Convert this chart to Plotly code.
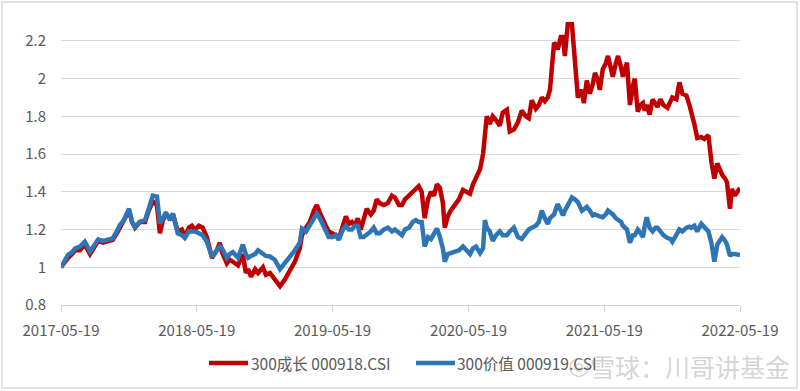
import plotly.graph_objects as go

dates = [
"2017-05-19","2017-05-30","2017-06-07","2017-06-18","2017-06-26","2017-07-09","2017-07-22","2017-08-05","2017-08-16","2017-08-27",
"2017-09-09","2017-09-22","2017-10-05","2017-10-16","2017-10-24","2017-11-04","2017-11-18","2017-11-26","2017-12-04","2017-12-17",
"2017-12-31","2018-01-10","2018-01-21","2018-02-01","2018-02-09","2018-02-17","2018-02-25","2018-03-08","2018-03-16","2018-03-29",
"2018-04-09","2018-04-17","2018-04-28","2018-05-06","2018-05-14","2018-05-25","2018-06-04","2018-06-15","2018-06-29","2018-07-12",
"2018-07-20","2018-07-26","2018-08-08","2018-08-16","2018-08-24","2018-09-07","2018-09-20","2018-09-28","2018-10-04","2018-10-12",
"2018-10-23","2018-10-31","2018-11-13","2018-11-21","2018-12-02","2018-12-15","2018-12-29","2019-01-11","2019-01-24","2019-02-07",
"2019-02-20","2019-02-26","2019-03-09","2019-03-19","2019-03-30","2019-04-07","2019-04-15","2019-04-23","2019-05-01","2019-05-09",
"2019-05-20","2019-05-28","2019-06-05","2019-06-16","2019-06-24","2019-07-02","2019-07-10","2019-07-18","2019-07-26","2019-08-03",
"2019-08-11","2019-08-19","2019-08-30","2019-09-07","2019-09-15","2019-09-23","2019-10-04","2019-10-15","2019-10-26","2019-11-03",
"2019-11-14","2019-11-22","2019-11-30","2019-12-11","2019-12-21","2019-12-29","2020-01-06","2020-01-14","2020-01-22","2020-01-31",
"2020-02-08","2020-02-16","2020-02-24","2020-03-03","2020-03-11","2020-03-16","2020-03-24","2020-04-01","2020-04-12","2020-04-23",
"2020-05-04","2020-05-15","2020-05-23","2020-05-31","2020-06-08","2020-06-19","2020-06-27","2020-07-02","2020-07-07","2020-07-15",
"2020-07-23","2020-08-01","2020-08-11","2020-08-19","2020-08-30","2020-09-07","2020-09-18","2020-09-29","2020-10-09","2020-10-20",
"2020-10-28","2020-11-05","2020-11-16","2020-11-24","2020-12-02","2020-12-10","2020-12-18","2020-12-24","2021-01-04","2021-01-09",
"2021-01-14","2021-01-22","2021-01-28","2021-02-02","2021-02-10","2021-02-21","2021-03-01","2021-03-09","2021-03-20","2021-03-25",
"2021-04-02","2021-04-10","2021-04-18","2021-04-24","2021-05-02","2021-05-07","2021-05-15","2021-05-23","2021-05-29","2021-06-06",
"2021-06-11","2021-06-19","2021-06-25","2021-07-03","2021-07-08","2021-07-19","2021-07-27","2021-08-04","2021-08-09","2021-08-17",
"2021-08-25","2021-08-31","2021-09-05","2021-09-10","2021-09-18","2021-09-26","2021-10-04","2021-10-09","2021-10-17","2021-10-25",
"2021-11-05","2021-11-13","2021-11-18","2021-11-29","2021-12-07","2021-12-15","2021-12-26","2022-01-03","2022-01-08","2022-01-16",
"2022-01-24","2022-02-04","2022-02-12","2022-02-23","2022-03-03","2022-03-11","2022-03-19","2022-03-27","2022-04-01","2022-04-09",
"2022-04-14","2022-04-22","2022-04-27","2022-05-05","2022-05-19",
]

growth_000918 = [
1.00,1.03,1.05,1.07,1.09,1.09,1.12,1.07,1.11,1.14,
1.13,1.135,1.145,1.18,1.21,1.24,1.30,1.24,1.21,1.24,
1.24,1.30,1.35,1.33,1.18,1.25,1.28,1.26,1.28,1.19,
1.20,1.16,1.21,1.22,1.20,1.22,1.21,1.16,1.05,1.09,
1.13,1.08,1.02,1.04,1.03,1.01,1.07,0.97,0.99,0.95,
0.99,0.97,1.00,0.96,0.97,0.94,0.90,0.935,0.98,1.03,
1.10,1.17,1.21,1.24,1.30,1.33,1.29,1.25,1.22,1.19,
1.18,1.17,1.15,1.22,1.27,1.23,1.24,1.22,1.26,1.20,
1.25,1.31,1.28,1.30,1.36,1.34,1.33,1.34,1.38,1.37,
1.33,1.33,1.36,1.38,1.40,1.41,1.43,1.40,1.26,1.36,
1.40,1.38,1.44,1.42,1.34,1.21,1.27,1.30,1.33,1.36,
1.41,1.40,1.39,1.44,1.47,1.52,1.60,1.68,1.80,1.76,
1.80,1.78,1.75,1.82,1.835,1.72,1.73,1.77,1.83,1.80,
1.79,1.885,1.84,1.86,1.90,1.88,1.90,1.94,2.19,2.18,
2.155,2.22,2.22,2.12,2.29,2.29,2.10,1.90,1.94,1.87,
1.99,1.92,1.97,2.03,1.99,1.94,2.05,2.08,2.12,2.06,
2.01,2.08,2.12,2.06,2.01,2.085,1.86,1.96,2.00,1.825,
1.86,1.87,1.83,1.86,1.81,1.89,1.87,1.85,1.89,1.86,
1.845,1.88,1.90,1.89,1.98,1.92,1.91,1.86,1.81,1.76,
1.685,1.69,1.68,1.70,1.56,1.47,1.55,1.51,1.49,1.47,
1.45,1.31,1.415,1.38,1.42,
]

value_000919 = [
1.00,1.04,1.066,1.08,1.10,1.11,1.135,1.084,1.12,1.148,
1.14,1.145,1.153,1.19,1.223,1.25,1.31,1.24,1.214,1.24,
1.25,1.31,1.38,1.375,1.233,1.26,1.29,1.25,1.285,1.18,
1.17,1.155,1.19,1.19,1.19,1.18,1.17,1.136,1.057,1.09,
1.11,1.10,1.05,1.07,1.08,1.05,1.12,1.07,1.05,1.06,
1.07,1.09,1.075,1.06,1.057,1.04,0.99,1.02,1.05,1.09,
1.13,1.205,1.19,1.22,1.26,1.284,1.26,1.23,1.19,1.16,
1.16,1.17,1.145,1.20,1.22,1.20,1.20,1.22,1.22,1.16,
1.16,1.17,1.19,1.21,1.18,1.18,1.20,1.21,1.19,1.20,
1.18,1.17,1.20,1.21,1.24,1.25,1.24,1.24,1.11,1.16,
1.15,1.18,1.205,1.16,1.10,1.03,1.07,1.075,1.08,1.09,
1.11,1.09,1.07,1.10,1.11,1.075,1.10,1.25,1.21,1.19,
1.14,1.17,1.19,1.17,1.17,1.19,1.21,1.16,1.15,1.18,
1.20,1.21,1.22,1.24,1.30,1.26,1.23,1.26,1.28,1.31,
1.335,1.30,1.275,1.30,1.33,1.37,1.36,1.345,1.30,1.31,
1.32,1.30,1.275,1.28,1.27,1.27,1.265,1.28,1.30,1.29,
1.28,1.26,1.25,1.24,1.22,1.20,1.13,1.17,1.17,1.20,
1.18,1.16,1.22,1.265,1.21,1.19,1.21,1.21,1.19,1.17,
1.155,1.15,1.135,1.17,1.20,1.19,1.21,1.215,1.21,1.22,
1.19,1.23,1.21,1.19,1.13,1.03,1.12,1.15,1.16,1.14,
1.12,1.06,1.07,1.07,1.065,
]

series_names = ["300成长 000918.CSI", "300价值 000919.CSI"]
series_colors = ["#C00000", "#2E75B6"]
tick_dates = ["2017-05-19", "2018-05-19", "2019-05-19", "2020-05-19", "2021-05-19", "2022-05-19"]
y_ticks = [0.8, 1.0, 1.2, 1.4, 1.6, 1.8, 2.0, 2.2]
y_tick_labels = ["0.8", "1", "1.2", "1.4", "1.6", "1.8", "2", "2.2"]
watermark = "雪球：川哥讲基金"

FONT = "Liberation Sans Narrow, Noto Sans CJK SC, sans-serif"
GREY = "#595959"

fig = go.Figure()
for name, vals, col in zip(series_names, [growth_000918, value_000919], series_colors):
    fig.add_trace(go.Scatter(x=dates, y=vals, mode="lines", name=name,
                             line=dict(color=col, width=4.5), showlegend=False))

fig.update_layout(
    width=800, height=391,
    margin=dict(l=61, r=60, t=22, b=86),
    paper_bgcolor="white", plot_bgcolor="white",
    font=dict(family=FONT, size=14, color=GREY),
    xaxis=dict(type="date", range=["2017-05-19", "2022-05-19"],
               tickvals=tick_dates, ticktext=tick_dates, automargin=False,
               showgrid=False, zeroline=False, showline=True, linecolor="#d0d0d0", linewidth=1,
               ticks="outside", ticklen=6, tickcolor="#d0d0d0", tickwidth=1,
               ticklabelstandoff=6,
               tickfont=dict(family=FONT, size=15, color=GREY)),
    yaxis=dict(range=[0.8, 2.3], tickvals=y_ticks, ticktext=y_tick_labels, automargin=False,
               showgrid=True, gridcolor="#d9d9d9", gridwidth=1, zeroline=False,
               showline=False, ticks="", ticklabelstandoff=14,
               tickfont=dict(family=FONT, size=15, color=GREY)),
)

# chart outer border
fig.add_shape(type="rect", xref="paper", yref="paper",
              x0=-0.0870, x1=1.0840, y0=-0.2933, y1=1.0707,
              line=dict(color="#d9d9d9", width=1.5), fillcolor="rgba(0,0,0,0)", layer="below")

# manual legend
leg_y = -0.2049
leg_items = [(0.2180, 0.2754, 0.2798), (0.5228, 0.5803, 0.5832)]
for (x0, x1, xt), name, col in zip(leg_items, series_names, series_colors):
    fig.add_shape(type="line", xref="paper", yref="paper", x0=x0, x1=x1, y0=leg_y, y1=leg_y,
                  line=dict(color=col, width=4.5))
    fig.add_annotation(xref="paper", yref="paper", x=xt, y=leg_y, xanchor="left", yanchor="middle",
                       text=name, showarrow=False, xshift=-2,
                       font=dict(family=FONT, size=15.5, color=GREY))

# watermark (overlaps the legend text, as in the reference)
fig.add_annotation(xref="paper", yref="paper", x=0.7442, y=-0.215, xanchor="left", yanchor="middle",
                   text="◎", showarrow=False,
                   font=dict(family="DejaVu Sans", size=25, color="rgba(160,160,160,0.45)"))
fig.add_annotation(xref="paper", yref="paper", x=0.7790, y=-0.215, xanchor="left", yanchor="middle",
                   text=watermark, showarrow=False, xshift=-2,
                   font=dict(family="Noto Sans CJK SC", size=25, color="rgba(160,160,160,0.45)"))

fig.write_html("out.html", config={"displayModeBar": False},
               post_script="document.body.style.margin='0px';")
